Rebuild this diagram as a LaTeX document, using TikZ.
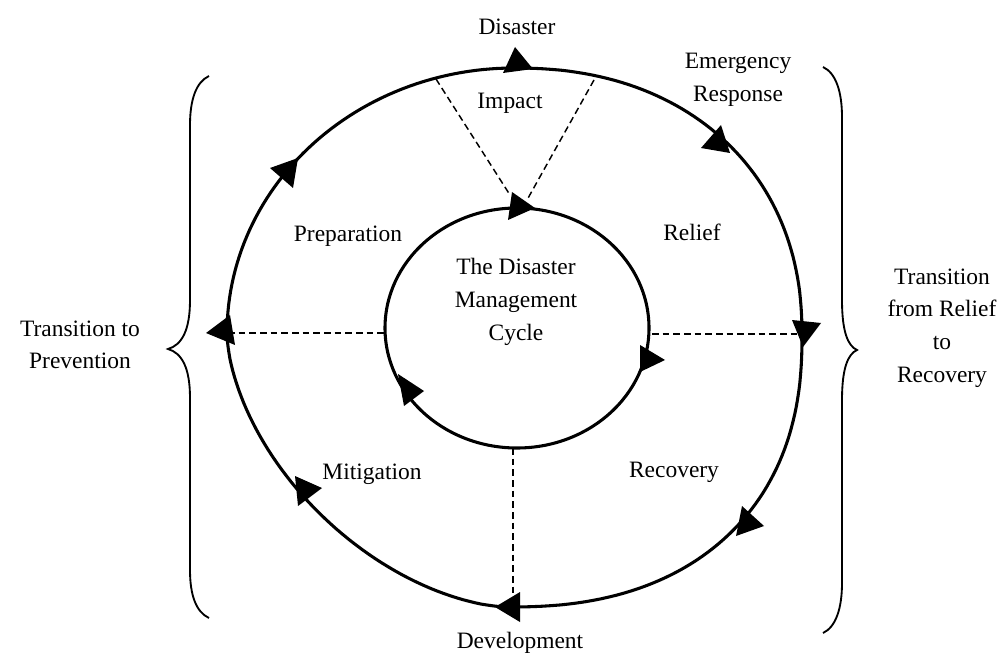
\documentclass[tikz,border=0pt]{standalone}
\usepackage{fontspec}
\setmainfont{Liberation Serif}
\begin{document}
\begin{tikzpicture}[x=0.75pt,y=-0.75pt,
  ring/.style={line width=2.3pt},
  sep/.style={line width=1.1pt, dash pattern=on 5pt off 3pt},
  brace/.style={line width=1.4pt},
  head/.style={fill=black},
  lbl/.style={font=\fontsize{17.6}{24.5}\selectfont, align=center, inner sep=0pt}]
\useasboundingbox (0,0) rectangle (1000,656);
% outer ring (four quarter curves)
\draw[ring, line join=round, samples=60]
  plot[domain=0.01:89.99] ({514+288*cos(\x)^(0.91)},{335-267*sin(\x)^(0.91)})
  -- plot[domain=89.99:0.01] ({514-287*cos(\x)^(1.0)},{333-265*sin(\x)^(1.0)})
  -- plot[domain=0.01:89.99] ({508-281*cos(\x)^(1.18)},{333+274*sin(\x)^(1.18)})
  -- plot[domain=89.99:0.01] ({508+294*cos(\x)^(0.86)},{335+272*sin(\x)^(0.86)})
  -- cycle;
% inner ring
\draw[ring] (517,328) ellipse [x radius=99pt, y radius=90pt];
% dashed separators
\coordinate (tl1) at (436,79); \coordinate (tl2) at (510,195);
\coordinate (tr1) at (594,80); \coordinate (tr2) at (527,200);
\draw[sep] (tl1) -- (tl2);
\draw[sep] (tr1) -- (tr2);
\coordinate (l1) at (228,333); \coordinate (l2) at (385,333);
\draw[sep] (l1) -- (l2);
\coordinate (r1) at (652,334); \coordinate (r2) at (800,334);
\draw[sep] (r1) -- (r2);
\coordinate (b1) at (513,448); \coordinate (b2) at (513,596);
\draw[sep] (b1) -- (b2);
% arrow heads outer
\fill[head] (515,47) -- (503,73) -- (533,69) -- cycle;
\fill[head] (721,125) -- (701,148) -- (730,153) -- cycle;
\fill[head] (792,320) -- (821,323) -- (803,347) -- cycle;
\fill[head] (736,536) -- (764,526) -- (742,506) -- cycle;
\fill[head] (495,607) -- (520,592) -- (520,622) -- cycle;
\fill[head] (295,476) -- (322,488) -- (298,506) -- cycle;
\fill[head] (206,333) -- (230,315) -- (235,345) -- cycle;
\fill[head] (298,158) -- (270,168) -- (293,188) -- cycle;
% arrow heads inner
\fill[head] (512,192) -- (508,220) -- (535,208) -- cycle;
\fill[head] (640,345) -- (640,372) -- (665,360) -- cycle;
\fill[head] (398,374) -- (424,391) -- (404,406) -- cycle;
% braces
\draw[brace] (209,76) .. controls (196,82) and (190,100) .. (190,125)
  -- (190,300) .. controls (190,330) and (182,345) .. (168,349)
  .. controls (182,353) and (190,368) .. (190,398)
  -- (190,570) .. controls (190,595) and (196,612) .. (209,618);
\draw[brace] (823,67) .. controls (836,73) and (842,92) .. (842,117)
  -- (842,300) .. controls (842,332) and (848,346) .. (857,350)
  .. controls (848,354) and (842,368) .. (842,400)
  -- (842,583) .. controls (842,608) and (836,627) .. (823,633);
% labels
\node[lbl] (disaster) at (517,27) {Disaster};
\node[lbl] (emerg) at (738,80) {Emergency\\Response};
\node[lbl] (impact) at (510,103) {Impact};
\node[lbl] (prep) at (348,236) {Preparation};
\node[lbl] (relief) at (692,232) {Relief};
\node[lbl] (cycle) at (516,302) {The Disaster\\Management\\Cycle};
\node[lbl] (prev) at (80,345) {Transition to\\Prevention};
\node[lbl] (recov) at (942,328) {Transition\\from Relief\\to\\Recovery};
\node[lbl] (mitig) at (372,474) {Mitigation};
\node[lbl] (recovery) at (674,472) {Recovery};
\node[lbl] (devel) at (520,643) {Development};
\end{tikzpicture}
\end{document}
